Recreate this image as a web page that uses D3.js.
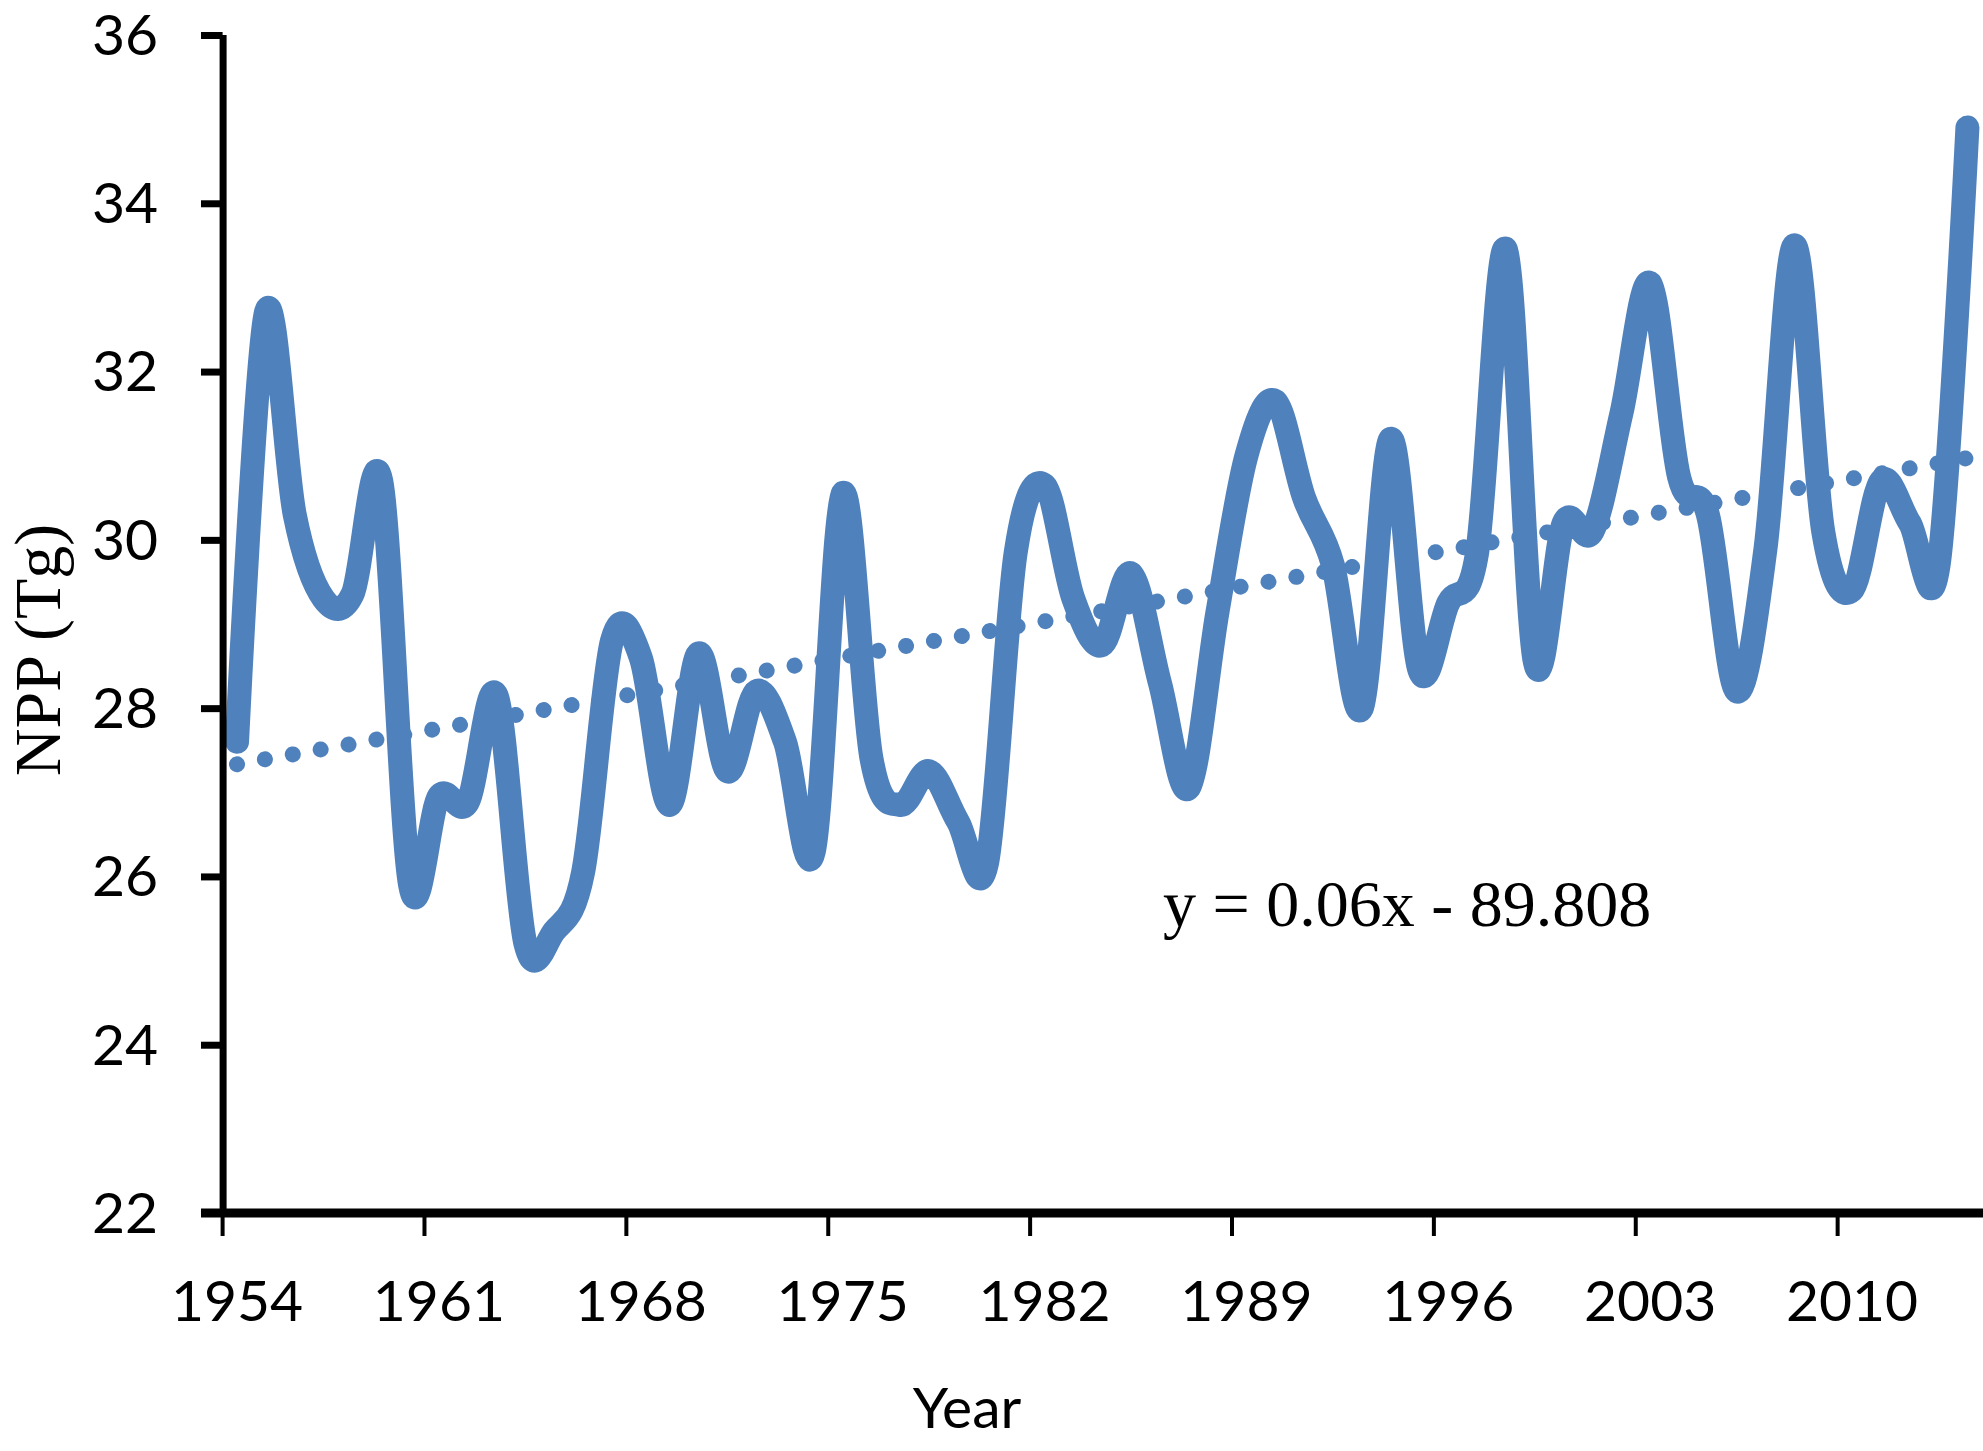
<!DOCTYPE html>
<html>
<head>
<meta charset="utf-8">
<script src="https://cdn.jsdelivr.net/npm/d3@7/dist/d3.min.js"></script>
<style>
  html, body { margin: 0; padding: 0; background: #ffffff; }
  svg { display: block; }
</style>
</head>
<body>
<svg id="chart" width="1983" height="1451"></svg>
<script>
// ---------------- Data ----------------
const years = d3.range(1954, 2015);
const npp = [
  27.6, 32.7, 30.3, 29.3, 29.35, 30.7, 25.9, 26.95, 26.88, 28.15,
  25.2, 25.35, 26.05, 28.8, 28.6, 26.85, 28.65, 27.25, 28.2, 27.6,
  26.3, 30.55, 27.4, 26.85, 27.25, 26.65, 26.15, 29.85, 30.65, 29.3,
  28.75, 29.6, 28.3, 27.05, 29.15, 31.0, 31.65, 30.5, 29.7, 28.0,
  31.2, 28.45, 29.25, 29.85, 33.45, 28.55, 30.2, 30.1, 31.5, 33.05,
  30.75, 30.3, 28.2, 29.9, 33.5, 30.1, 29.4, 30.7, 30.2, 29.7,
  34.9
];
const xTickYears = [1954, 1961, 1968, 1975, 1982, 1989, 1996, 2003, 2010];
const yTicks = [22, 24, 26, 28, 30, 32, 34, 36];
const equationText = "y = 0.06x - 89.808";
const xTitle = "Year";
const yTitle = "NPP (Tg)";

// ---------------- Layout ----------------
const svg = d3.select("#chart");
const plotLeft = 222.6, bandW = 28.84;
const plotTop = 35, plotBottom = 1213;

const x = d3.scaleBand().domain(years).range([plotLeft, plotLeft + years.length * bandW]).paddingInner(0).paddingOuter(0);
const xc = yr => x(yr) + x.bandwidth() / 2;
const y = d3.scaleLinear().domain([22, 36]).range([plotBottom, plotTop]);

const blue = "#4F81BD";
const data = years.map((yr, i) => ({ yr, v: npp[i] }));

// Linear trend (least squares on year)
const mx = d3.mean(years), my = d3.mean(npp);
const slope = d3.sum(years, (yr, i) => (yr - mx) * (npp[i] - my)) / d3.sum(years, yr => (yr - mx) * (yr - mx));
const intercept = my - slope * mx;
const trend = [years[0], years[years.length - 1]].map(yr => ({ yr, v: intercept + slope * yr }));

// Trendline (round dots)
svg.append("path")
  .datum(trend)
  .attr("fill", "none")
  .attr("stroke", blue)
  .attr("stroke-width", 16)
  .attr("stroke-linecap", "round")
  .attr("stroke-dasharray", "0.01 28.3")
  .attr("d", d3.line().x(d => xc(d.yr)).y(d => y(d.v)));

// Main smoothed line
svg.append("path")
  .datum(data)
  .attr("fill", "none")
  .attr("stroke", blue)
  .attr("stroke-width", 24)
  .attr("stroke-linecap", "round")
  .attr("stroke-linejoin", "round")
  .attr("d", d3.line().x(d => xc(d.yr)).y(d => y(d.v)).curve(d3.curveCardinal.tension(0)));

// Y axis
const yAxis = svg.append("g")
  .attr("transform", `translate(${plotLeft},0)`)
  .call(d3.axisLeft(y).tickValues(yTicks).tickSize(21.6).tickPadding(43).tickFormat(d3.format("d")));
yAxis.select(".domain").attr("stroke", "#000").attr("stroke-width", 7).attr("d", `M0.5,${plotTop}V${plotBottom}`);
yAxis.selectAll(".tick line").attr("stroke", "#000").attr("stroke-width", 7);
yAxis.selectAll(".tick text")
  .attr("font-family", "Lato, 'Open Sans', sans-serif")
  .attr("font-size", 57)
  .attr("fill", "#000")
  .attr("dy", "0.34em");

// X axis line
const axisRight = 1983;
svg.append("line")
  .attr("x1", plotLeft - 21.6).attr("x2", axisRight)
  .attr("y1", plotBottom).attr("y2", plotBottom)
  .attr("stroke", "#000").attr("stroke-width", 9);

// X ticks at category boundaries
svg.append("g").selectAll("line")
  .data(xTickYears)
  .join("line")
  .attr("x1", d => x(d)).attr("x2", d => x(d))
  .attr("y1", plotBottom).attr("y2", plotBottom + 23)
  .attr("stroke", "#000").attr("stroke-width", 4);

// X labels at category centers
const xAxis = svg.append("g")
  .attr("transform", `translate(0,${plotBottom})`)
  .call(d3.axisBottom(x).tickValues(xTickYears).tickSize(0).tickPadding(0));
xAxis.select(".domain").remove();
xAxis.selectAll(".tick text")
  .attr("font-family", "Lato, 'Open Sans', sans-serif")
  .attr("font-size", 57)
  .attr("fill", "#000")
  .attr("y", 108)
  .attr("dy", 0);

// Axis titles
svg.append("text")
  .attr("x", 967).attr("y", 1428)
  .attr("text-anchor", "middle")
  .attr("font-family", "Lato, 'Open Sans', sans-serif")
  .attr("font-size", 57)
  .attr("fill", "#000")
  .text(xTitle);

svg.append("text")
  .attr("transform", "translate(60,650) rotate(-90)")
  .attr("text-anchor", "middle")
  .attr("font-family", "'Liberation Serif', 'Times New Roman', serif")
  .attr("font-size", 66)
  .attr("fill", "#000")
  .text(yTitle);

// Trend equation
svg.append("text")
  .attr("x", 1163).attr("y", 926)
  .attr("font-family", "'Liberation Serif', 'Times New Roman', serif")
  .attr("font-size", 66)
  .attr("fill", "#000")
  .text(equationText);
</script>
</body>
</html>
